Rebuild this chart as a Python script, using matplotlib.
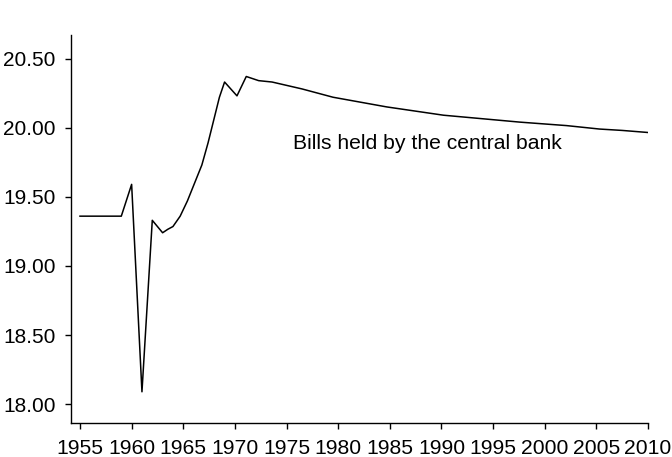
import matplotlib.pyplot as plt

# values
years = [1955, 1959, 1960, 1961, 1962, 1963, 1963.5, 1964, 1964.7, 1965.4,
         1966.1, 1966.8, 1967.4, 1968.0, 1968.5, 1969.0, 1970.2, 1971.1,
         1972.3, 1973.6, 1976.5, 1979.5, 1984.7, 1990.2, 1997.6, 2002.1,
         2005.3, 2007.5, 2010]
bills = [19.36, 19.36, 19.59, 18.09, 19.33, 19.24, 19.265, 19.285, 19.36, 19.47,
         19.60, 19.73, 19.89, 20.07, 20.22, 20.33, 20.23, 20.37,
         20.34, 20.33, 20.28, 20.22, 20.15, 20.09, 20.04, 20.015,
         19.99, 19.98, 19.965]
xticks = list(range(1955, 2011, 5))
yticks = [18.0, 18.5, 19.0, 19.5, 20.0, 20.5]

plt.rcParams['font.family'] = ['Liberation Sans', 'DejaVu Sans']

fig = plt.figure(figsize=(6.72, 4.57), dpi=100)
ax = fig.add_axes([0.1052, 0.0737, 0.8591, 0.8497])

ax.plot(years, bills, color='black', linewidth=1.1)

ax.set_xlim(1954.1, 2010)
ax.set_ylim(17.862, 20.67)
ax.set_xticks(xticks)
ax.set_yticks(yticks)
ax.set_yticklabels([f'{v:.2f}' for v in yticks])

for side in ['top', 'right']:
    ax.spines[side].set_visible(False)
for side in ['left', 'bottom']:
    ax.spines[side].set_linewidth(1.0)

ax.tick_params(axis='x', labelsize=15.2, length=4, width=1.0, pad=7)
ax.tick_params(axis='y', labelsize=15, length=4, width=1.0, pad=7)

ax.text(1975.6, 19.888, 'Bills held by the central bank', fontsize=15.2,
        va='center', ha='left')

fig.savefig('out.png', dpi=100)
